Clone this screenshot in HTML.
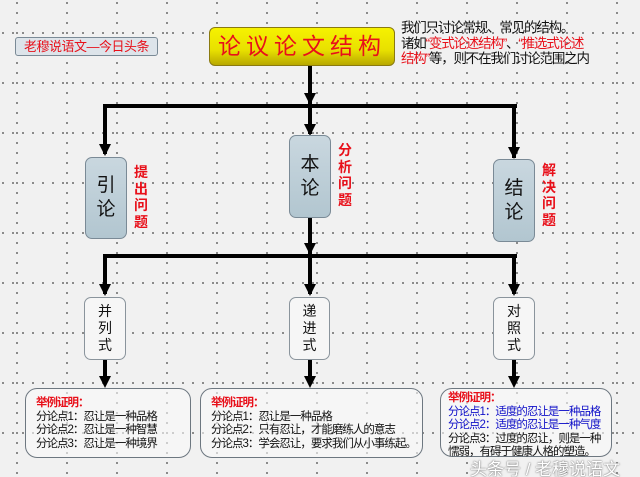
<!DOCTYPE html>
<html><head><meta charset="utf-8"><style>
*{margin:0;padding:0;box-sizing:border-box}
html,body{width:640px;height:477px;overflow:hidden}
body{position:relative;background-color:#f1f1f1;
background-image:radial-gradient(circle,#777 0.8px,transparent 1.2px),radial-gradient(circle,#777 0.8px,transparent 1.2px);
background-size:50px 10px,10px 50px;background-position:-8px -2px,-2px 8px;
font-family:"Liberation Sans","Noto Sans CJK SC",sans-serif}
.a{position:absolute}
.ln{position:absolute;background:#000}
.arr{position:absolute;width:0;height:0;border-left:6px solid transparent;border-right:6px solid transparent;border-top:12px solid #000}
.bx{position:absolute;border:1.5px solid #7a8a96;border-radius:7px;background:linear-gradient(#c9d7df,#b2c6d0);text-align:center;font-size:19px;line-height:24px;color:#111;display:flex;flex-direction:column;justify-content:center;align-items:center}
.sb{position:absolute;border:1.5px solid #8a949c;border-radius:7px;background:#f6f6f6;text-align:center;font-size:14px;line-height:17px;color:#111;display:flex;flex-direction:column;justify-content:center;align-items:center}
.red{color:#e8101a}
.vl{position:absolute;color:#e8101a;font-size:14px;line-height:16.5px;font-weight:bold;width:16px;text-align:center}
.bb{position:absolute;border:1.5px solid #6d7780;border-radius:12px;background:rgba(250,250,250,.6);font-size:11.5px;letter-spacing:-1px;white-space:nowrap;line-height:13.5px;padding:8px 0 0 10px;color:#111}
</style></head><body>
<div class="a" style="left:15px;top:37px;width:143px;height:19px;border:1px solid #7a8a96;border-radius:3px;background:#dde4ea;color:#e8101a;font-size:13px;line-height:17px;text-align:center;letter-spacing:-0.5px;white-space:nowrap">老穆说语文—今日头条</div>
<div class="a" style="left:209px;top:27px;width:186px;height:39px;border:1px solid #8a7a10;border-radius:6px;background:linear-gradient(#f6f200,#e8e000 60%,#b8a800);color:#e8101a;font-size:23px;line-height:37px;text-align:center;letter-spacing:5px">论议论文结构</div>
<div class="a" style="left:401px;top:20px;font-size:13.5px;line-height:15.5px;color:#111;white-space:nowrap;letter-spacing:-1.2px">我们只讨论常规、常见的结构。<br>诸如<span class="red">“变式论述结构”</span>、<span class="red">“推选式论述<br>结构”</span>等，则不在我们讨论范围之内</div>

<div class="ln" style="left:308px;top:66px;width:4px;height:42px"></div>
<div class="arr" style="left:304px;top:93px"></div>
<div class="ln" style="left:103px;top:104px;width:414px;height:4px"></div>
<div class="ln" style="left:103px;top:104px;width:4px;height:50px"></div>
<div class="arr" style="left:99px;top:144px"></div>
<div class="ln" style="left:308px;top:104px;width:4px;height:30px"></div>
<div class="arr" style="left:304px;top:124px"></div>
<div class="ln" style="left:512px;top:104px;width:4px;height:54px"></div>
<div class="arr" style="left:508px;top:147px"></div>

<div class="bx" style="left:85px;top:157px;width:42px;height:82px">引<br>论</div>
<div class="bx" style="left:289px;top:135px;width:42px;height:83px">本<br>论</div>
<div class="bx" style="left:493px;top:159px;width:42px;height:83px">结<br>论</div>
<div class="vl" style="left:133px;top:164px">提<br>出<br>问<br>题</div>
<div class="vl" style="left:337px;top:142px">分<br>析<br>问<br>题</div>
<div class="vl" style="left:541px;top:162px">解<br>决<br>问<br>题</div>

<div class="ln" style="left:308px;top:218px;width:4px;height:40px"></div>
<div class="arr" style="left:304px;top:243px"></div>
<div class="ln" style="left:103px;top:254px;width:414px;height:4px"></div>
<div class="ln" style="left:103px;top:254px;width:4px;height:40px"></div>
<div class="arr" style="left:99px;top:284px"></div>
<div class="ln" style="left:308px;top:254px;width:4px;height:40px"></div>
<div class="arr" style="left:304px;top:284px"></div>
<div class="ln" style="left:512px;top:254px;width:4px;height:40px"></div>
<div class="arr" style="left:508px;top:284px"></div>

<div class="sb" style="left:84px;top:297px;width:42px;height:63px">并<br>列<br>式</div>
<div class="sb" style="left:289px;top:297px;width:41px;height:63px">递<br>进<br>式</div>
<div class="sb" style="left:493px;top:297px;width:42px;height:63px">对<br>照<br>式</div>

<div class="ln" style="left:103px;top:360px;width:4px;height:24px"></div>
<div class="arr" style="left:99px;top:376px"></div>
<div class="ln" style="left:308px;top:360px;width:4px;height:24px"></div>
<div class="arr" style="left:304px;top:376px"></div>
<div class="ln" style="left:512px;top:360px;width:4px;height:24px"></div>
<div class="arr" style="left:508px;top:376px"></div>

<div class="bb" style="left:25px;top:388px;width:166px;height:70px;padding-top:8px"><span class="red" style="font-weight:bold">举例证明：</span><br>分论点1：忍让是一种品格<br>分论点2：忍让是一种智慧<br>分论点3：忍让是一种境界</div>
<div class="bb" style="left:200px;top:388px;width:223px;height:70px;padding-top:8px"><span class="red" style="font-weight:bold">举例证明：</span><br>分论点1：忍让是一种品格<br>分论点2：只有忍让，才能磨练人的意志<br>分论点3：学会忍让，要求我们从小事练起。</div>
<div class="bb" style="left:440px;top:388px;width:172px;height:69px;padding:3px 0 0 7px"><span class="red" style="font-weight:bold">举例证明：</span><br><span style="color:#1010c8">分论点1：适度的忍让是一种品格<br>分论点2：适度的忍让是一种气度</span><br>分论点3：过度的忍让，则是一种<br>懦弱，有碍于健康人格的塑造。</div>
<div class="a" style="left:470px;top:455px;font-size:17px;color:#fff;white-space:nowrap;text-shadow:0 0 2px #888,0 0 1px #666">头条号 / 老穆说语文</div>
</body></html>
